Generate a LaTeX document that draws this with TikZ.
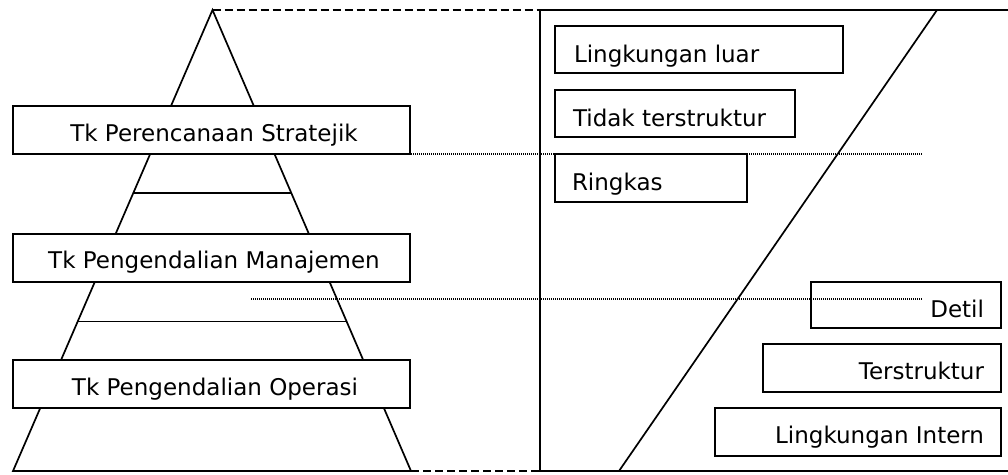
\documentclass[tikz,border=0pt]{standalone}
\usepackage{fontspec}
\setmainfont{DejaVu Sans}
\usetikzlibrary{calc}
\begin{document}
\begin{tikzpicture}[x=1pt,y=-1pt,
  box/.style={draw, line width=2pt, fill=white, rectangle, inner sep=0pt, outer sep=0pt, anchor=north west},
  lbl/.style={inner sep=0pt, outer sep=0pt, font=\fontsize{23}{27}\selectfont},
  edge/.style={line width=1.7pt},
  frame/.style={line width=2.2pt},
  guide/.style={line width=1.1pt, dash pattern=on 1pt off 1pt},
  link/.style={line width=2pt, dash pattern=on 8pt off 4pt}]
\useasboundingbox[fill=white] (0,0) rectangle (1008,474);

% pyramid
\coordinate (apex) at (212.5,10);
\coordinate (bl) at (13,471);
\coordinate (br) at (411,471);
\draw[edge] (apex) -- (bl) -- (br) -- cycle;
\coordinate (m1l) at ($(apex)!0.397!(bl)$);
\coordinate (m1r) at ($(apex)!0.397!(br)$);
\coordinate (m2l) at ($(apex)!0.676!(bl)$);
\coordinate (m2r) at ($(apex)!0.676!(br)$);
\draw[edge] (m1l) -- (m1r);
\draw[edge] (m2l) -- (m2r);

\node[box, minimum width=397.3pt, minimum height=47.5pt] (b1) at (12.7,106) {};
\node[box, minimum width=397.3pt, minimum height=47.7pt] (b2) at (12.7,234) {};
\node[box, minimum width=397.3pt, minimum height=47.7pt] (b3) at (12.7,360) {};
\node[lbl, anchor=base] (t1) at (214,141) {Tk Perencanaan Stratejik};
\node[lbl, anchor=base] (t2) at (214,268) {Tk Pengendalian Manajemen};
\node[lbl, anchor=base] (t3) at (215,395) {Tk Pengendalian Operasi};

% right frame
\coordinate (ftl) at (540,10);
\coordinate (fbl) at (540,471);
\coordinate (ftr) at (1008,10);
\coordinate (fbr) at (1008,471);
\draw[frame] (ftr) -- (ftl) -- (fbl) -- (fbr);
\coordinate (dtop) at (937,10);
\coordinate (dbot) at (619,471);
\draw[edge] (dtop) -- (dbot);

\node[box, minimum width=288.3pt, minimum height=47.3pt] (r1) at (555,26) {};
\node[box, minimum width=240pt, minimum height=47.3pt] (r2) at (555,90) {};
\node[box, minimum width=192.3pt, minimum height=47.7pt] (r3) at (555,154) {};
\node[box, minimum width=190pt, minimum height=46pt] (r4) at (811,281.7) {};
\node[box, minimum width=238.3pt, minimum height=47.7pt] (r5) at (762.7,344.3) {};
\node[box, minimum width=286pt, minimum height=48pt] (r6) at (715,407.7) {};

\node[lbl, anchor=base west] (s1) at (574,62) {Lingkungan luar};
\node[lbl, anchor=base west] (s2) at (573,126.5) {Tidak terstruktur};
\node[lbl, anchor=base west] (s3) at (572,190) {Ringkas};
\node[lbl, anchor=base east] (s4) at (984,317.7) {Detil};
\node[lbl, anchor=base east] (s5) at (984,379.5) {Terstruktur};
\node[lbl, anchor=base east] (s6) at (984,443.5) {Lingkungan Intern};

% links
\draw[link] (apex) -- (ftl);
\draw[link] (br) -- (fbl);

% guide lines
\coordinate (g1a) at (203,154);
\coordinate (g1b) at (923,154);
\coordinate (g2a) at (251,299);
\coordinate (g2b) at (923,299);
\draw[guide] (g1a) -- (g1b);
\draw[guide] (g2a) -- (g2b);
\end{tikzpicture}
\end{document}
